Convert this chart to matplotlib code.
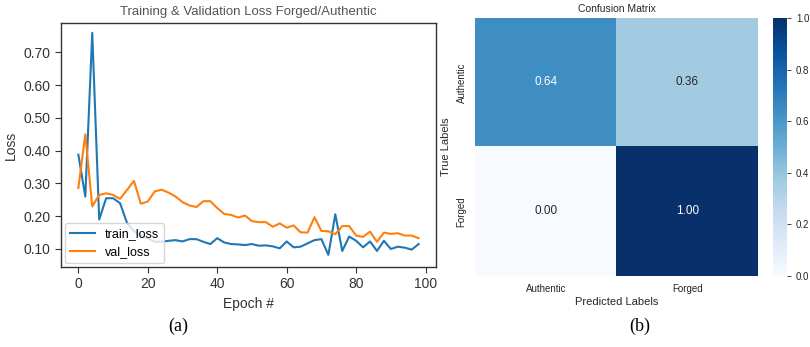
import matplotlib
matplotlib.use("Agg")
import matplotlib.pyplot as plt
import numpy as np

plt.rcParams['font.family'] = ['Liberation Sans', 'DejaVu Sans']

epochs = list(range(0, 100, 2))
train_loss = [0.388, 0.26, 0.76, 0.19, 0.255, 0.255, 0.24, 0.18, 0.155, 0.14,
              0.133, 0.122, 0.122, 0.125, 0.127, 0.123, 0.13, 0.13, 0.122, 0.115,
              0.133, 0.12, 0.115, 0.114, 0.112, 0.115, 0.11, 0.111, 0.108, 0.102,
              0.123, 0.105, 0.107, 0.117, 0.127, 0.13, 0.082, 0.206, 0.094, 0.138,
              0.125, 0.105, 0.123, 0.094, 0.125, 0.10, 0.107, 0.104, 0.098, 0.115]
val_loss = [0.286, 0.45, 0.23, 0.265, 0.27, 0.265, 0.253, 0.28, 0.308, 0.238,
            0.245, 0.276, 0.281, 0.272, 0.26, 0.243, 0.233, 0.228, 0.246, 0.246,
            0.225, 0.207, 0.204, 0.196, 0.202, 0.185, 0.182, 0.182, 0.168, 0.178,
            0.165, 0.172, 0.151, 0.15, 0.197, 0.155, 0.154, 0.145, 0.17, 0.17,
            0.141, 0.137, 0.153, 0.122, 0.15, 0.146, 0.148, 0.141, 0.141, 0.133]
yticks = [0.10, 0.20, 0.30, 0.40, 0.50, 0.60, 0.70]

classes = ["Authentic", "Forged"]
cm = np.array([[0.64, 0.36], [0.00, 1.00]])
cbar_ticks = [0.0, 0.2, 0.4, 0.6, 0.8, 1.0]

W, H = 810, 347
fig = plt.figure(figsize=(W/100, H/100), dpi=100)

def rect(l, t, r, b):
    return [l/W, 1 - b/H, (r-l)/W, (b-t)/H]

# ---- Left: loss curves
ax = fig.add_axes(rect(61, 23, 436, 267))
ax.plot(epochs, train_loss, color='#1f77b4', lw=1.5, label='train_loss')
ax.plot(epochs, val_loss, color='#ff7f0e', lw=1.5, label='val_loss')
ax.set_xlim(-5, 103)
ax.set_ylim(0.045, 0.79)
ax.set_yticks(yticks)
ax.set_yticklabels([f"{v:.2f}" for v in yticks])
ax.set_xticks([0, 20, 40, 60, 80, 100])
for s in ax.spines.values():
    s.set_color('#333333')
    s.set_linewidth(1.0)
ax.tick_params(colors='#333333', labelsize=10, length=4, direction='out')
ax.set_title("Training & Validation Loss Forged/Authentic", fontsize=9.5, color='#555555')
ax.set_xlabel("Epoch #", fontsize=10, color='#333333')
ax.set_ylabel("Loss", fontsize=10, color='#333333')
leg = ax.legend(loc='lower left', fontsize=9, frameon=True, borderaxespad=0.3)
leg.get_frame().set_edgecolor('#cccccc')
fig.text(178/W, 1 - 326/H, "(a)", fontsize=13, family='Liberation Serif', ha='center', va='center')

# ---- Right: confusion matrix
ax2 = fig.add_axes(rect(475, 18, 758, 276))
im = ax2.imshow(cm, cmap='Blues', vmin=0, vmax=1, aspect='auto')
for i in range(2):
    for j in range(2):
        v = cm[i, j]
        ax2.text(j, i, f"{v:.2f}", ha='center', va='center', fontsize=8.5,
                 color='white' if v > 0.5 else '#262626')
ax2.set_xticks([0, 1])
ax2.set_xticklabels(classes)
ax2.set_yticks([0, 1])
ax2.set_yticklabels(classes, rotation=90, va='center')
ax2.tick_params(length=0, labelsize=7, colors='#262626', pad=6)
for s in ax2.spines.values():
    s.set_visible(False)
ax2.set_title("Confusion Matrix", fontsize=7.5, color='#262626', pad=4)
ax2.set_xlabel("Predicted Labels", fontsize=8, color='#262626', labelpad=2)
ax2.set_ylabel("True Labels", fontsize=8, color='#262626', labelpad=4)

cax = fig.add_axes(rect(773, 18, 787, 276))
cb = fig.colorbar(im, cax=cax, ticks=cbar_ticks)
cb.outline.set_visible(False)
cax.tick_params(labelsize=7, colors='#262626', length=3, width=0.6)
fig.text(640/W, 1 - 326/H, "(b)", fontsize=13, family='Liberation Serif', ha='center', va='center')

fig.savefig("out.png", dpi=100)
